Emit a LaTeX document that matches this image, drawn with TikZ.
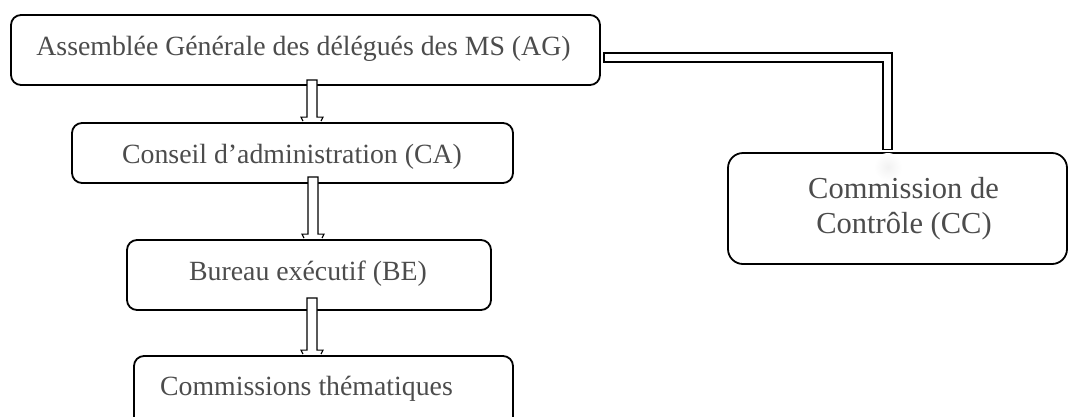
\documentclass[tikz,border=0pt]{standalone}
\usepackage{fontspec}
\setmainfont{Liberation Serif}
\usetikzlibrary{calc}
\newcommand\vpipe[2]{%
  \draw[pipe] let \p1=(#1), \p2=(#2) in
    (\x1-9,\y2+1) -- (\x1-11,\y2+5) -- (\x1-5,\y2+5) -- (\x1-5,\y1) --
    (\x1+5,\y1) -- (\x1+5,\y2+5) -- (\x1+11,\y2+5) -- (\x1+9,\y2+1);}
\begin{document}
\begin{tikzpicture}[x=1pt,y=-1pt,
  box/.style={draw=black, line width=1.8pt, fill=white, rounded corners=10pt, inner sep=0pt},
  lbl/.style={text=black!70, font=\fontsize{27.8}{33}\selectfont, inner sep=0pt, anchor=base},
  cclbl/.style={lbl, font=\fontsize{30.5}{35}\selectfont},
  pipe/.style={draw=black, line width=1.2pt, fill=white, line join=miter}]
\useasboundingbox (0,0) rectangle (1069,416);
\clip (0,0) rectangle (1069,416);
% boxes
\node[box, minimum width=589pt, minimum height=70pt] (ag) at (305.5,50) {};
\node[box, minimum width=441pt, minimum height=60pt] (ca) at (292.5,153) {};
\node[box, minimum width=364pt, minimum height=70pt] (be) at (309,275) {};
\node[box, minimum width=379pt, minimum height=80pt] (ct) at (323.5,396) {};
\node[box, rounded corners=15pt, minimum width=339pt, minimum height=111pt] (cc) at (897.5,208.5) {};
\shade[inner color=black!5, outer color=white] (888,167) circle (14pt);
% labels
\node[lbl] (agt) at (303.5,55) {Assemblée Générale des délégués des MS (AG)};
\node[lbl] (cat) at (292,163) {Conseil d’administration (CA)};
\node[lbl] (bet) at (308,280) {Bureau exécutif (BE)};
\node[lbl] (ctt) at (306.5,395) {Commissions thématiques};
\node[cclbl] (cc1) at (903.5,198) {Commission de};
\node[cclbl] (cc2) at (904,233) {Contrôle (CC)};
% vertical block arrows
\coordinate (p1a) at ($(ag.south)+(6.5,-6)$);
\coordinate (p1b) at ($(ca.north)+(19.5,0)$);
\coordinate (p2a) at ($(ca.south)+(20.5,-7)$);
\coordinate (p2b) at ($(be.north)+(4,0)$);
\coordinate (p3a) at ($(be.south)+(3,-13)$);
\coordinate (p3b) at ($(ct.north)+(-11.5,0)$);
\vpipe{p1a}{p1b}
\vpipe{p2a}{p2b}
\vpipe{p3a}{p3b}
% elbow pipe AG -> CC
\coordinate (e1) at ($(ag.east)+(3,7.5)$);
\coordinate (e2) at ($(cc.north)+(-10,-3)$);
\draw[pipe] let \p1=(e1), \p2=(e2) in
  (\x1,\y1+4.5) -- (\x2+4.5,\y1+4.5) -- (\x2+4.5,\y2) -- (\x2-4.5,\y2) --
  (\x2-4.5,\y1-4.5) -- (\x1,\y1-4.5) -- cycle;
\end{tikzpicture}
\end{document}
